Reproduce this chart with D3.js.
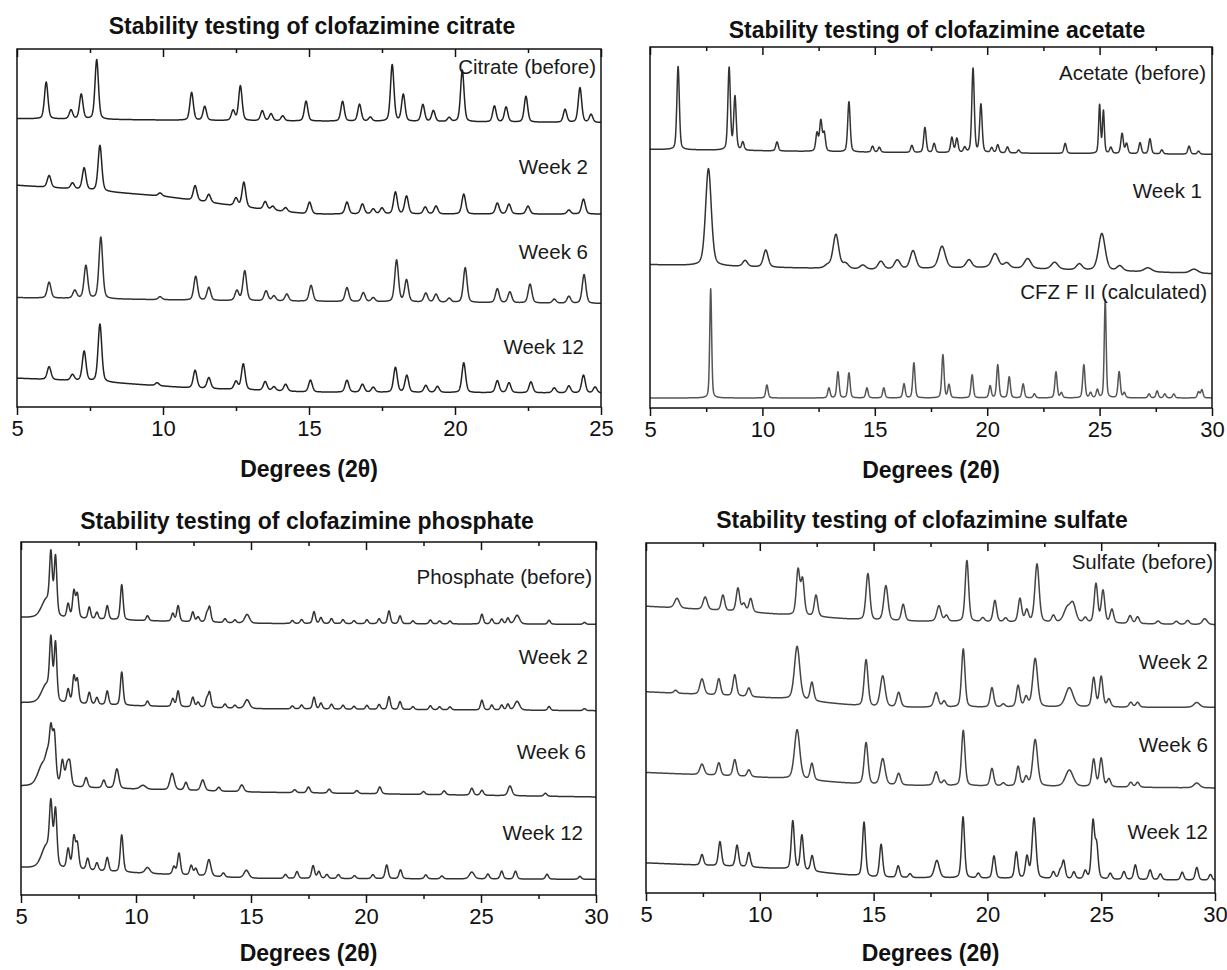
<!DOCTYPE html>
<html>
<head>
<meta charset="utf-8">
<script src="https://cdn.jsdelivr.net/npm/d3@7"></script>
<style>
  body { margin: 0; background: #fff; }
  svg { display: block; }
</style>
</head>
<body>
<div id="chart"></div>
<script>
// data: peak lists, [2theta, height, fwhm (optional)]
// baselines: [2theta, intensity] anchors, intensities in arbitrary counts (0-360 per panel)

const panelTitles = [
  "Stability testing of clofazimine citrate",
  "Stability testing of clofazimine acetate",
  "Stability testing of clofazimine phosphate",
  "Stability testing of clofazimine sulfate"
];
const xDomains = [[5, 25], [5, 30], [5, 30], [5, 30]];
const majorTicks = [[5, 10, 15, 20, 25], [5, 10, 15, 20, 25, 30], [5, 10, 15, 20, 25, 30], [5, 10, 15, 20, 25, 30]];
const minorTicks = [[7.5, 12.5, 17.5, 22.5], [7.5, 12.5, 17.5, 22.5, 27.5], [7.5, 12.5, 17.5, 22.5, 27.5], [7.5, 12.5, 17.5, 22.5, 27.5]];

const citrateLabels = ["Citrate (before)", "Week 2", "Week 6", "Week 12"];
const acetateLabels = ["Acetate (before)", "Week 1", "CFZ F II (calculated)"];
const phosphateLabels = ["Phosphate (before)", "Week 2", "Week 6", "Week 12"];
const sulfateLabels = ["Sulfate (before)", "Week 2", "Week 6", "Week 12"];

// citrate
const citrateBase = [
  [[5, 290], [12, 288], [25, 286]],
  [[5, 223], [7, 219], [10, 212], [13, 200], [15, 194], [25, 194]],
  [[5, 110], [12, 107], [25, 104]],
  [[5, 29], [8, 25], [11, 19], [15, 15], [25, 14]]
];
const citrateBefore = [[6.0, 37], [6.85, 9], [7.2, 25], [7.73, 60], [10.98, 28], [11.43, 14], [12.4, 10], [12.65, 35], [13.4, 10], [13.7, 7], [14.1, 5], [14.9, 20], [16.15, 20], [16.73, 17], [17.1, 4], [17.85, 57], [18.23, 27], [18.9, 17], [19.26, 11], [19.8, 4], [20.25, 52], [21.35, 16], [21.75, 15], [22.43, 26], [23.77, 13], [24.28, 35], [24.66, 8]];
const citrateWeek2 = [[6.1, 12], [6.9, 6], [7.3, 22], [7.84, 46], [9.9, 3], [11.1, 15], [11.57, 8], [12.5, 8], [12.77, 25], [13.5, 8], [13.76, 4], [14.2, 4], [15.02, 12], [16.3, 12], [16.83, 10], [17.2, 5], [17.5, 6], [17.96, 22], [18.34, 18], [18.98, 7], [19.35, 8], [20.3, 20], [21.45, 11], [21.85, 10], [22.5, 8], [23.9, 4], [24.4, 15]];
const citrateWeek6 = [[6.1, 16], [6.98, 8], [7.36, 33], [7.87, 62], [9.9, 3], [11.12, 24], [11.57, 13], [12.53, 10], [12.8, 30], [13.53, 10], [13.8, 5], [14.24, 7], [15.07, 16], [16.3, 14], [16.86, 9], [17.2, 4], [18.0, 42], [18.34, 22], [19.0, 9], [19.35, 8], [19.8, 4], [20.35, 35], [21.45, 14], [21.88, 11], [22.57, 19], [23.4, 4], [23.9, 7], [24.42, 29]];
const citrateWeek12 = [[6.1, 13], [6.9, 6], [7.3, 30], [7.84, 58], [9.8, 3], [11.1, 18], [11.57, 11], [12.5, 8], [12.75, 26], [13.5, 9], [13.8, 4], [14.2, 7], [15.05, 12], [16.3, 12], [16.83, 8], [17.2, 5], [17.96, 25], [18.35, 17], [19.0, 7], [19.4, 6], [20.3, 30], [21.45, 12], [21.85, 10], [22.6, 11], [23.4, 5], [23.9, 7], [24.4, 18], [24.8, 6]];

// acetate
const acetateBase = [
  [[5, 258], [15, 255], [30, 253]],
  [[5, 143], [15, 138], [20, 140], [30, 134]],
  [[5, 10], [30, 10]]
];
const acetateBefore = [[6.25, 83], [8.52, 82], [8.78, 53], [9.13, 8], [10.65, 9], [12.43, 18], [12.6, 30], [12.75, 18], [13.85, 50], [14.9, 6], [15.2, 5], [16.65, 7], [17.23, 25], [17.64, 9], [18.43, 15], [18.65, 14], [19.0, 5], [19.37, 84], [19.72, 48], [20.2, 5], [20.47, 8], [20.9, 6], [21.4, 3], [23.47, 10], [25.0, 48, 0.1], [25.17, 42, 0.1], [25.5, 6], [26.0, 20], [26.2, 10], [26.8, 11], [27.24, 15], [27.77, 4], [28.98, 8], [29.4, 3]];
const acetateWeek1 = [[7.6, 97], [9.23, 6, 0.25], [10.15, 17, 0.25], [12.9, 3], [13.27, 34], [13.7, 5], [14.47, 4], [15.27, 8], [16.0, 9], [16.7, 18], [17.99, 22, 0.35], [19.19, 8], [20.35, 14, 0.35], [20.87, 5], [21.8, 10, 0.35], [23.0, 7, 0.35], [24.1, 6], [25.1, 37, 0.35], [25.9, 5], [27.15, 4, 0.4], [29.2, 4, 0.4]];
const cfzCalc = [[7.7, 109, 0.1], [10.2, 13], [12.96, 10], [13.36, 26], [13.85, 25], [14.65, 10], [15.4, 10], [16.3, 14], [16.74, 35], [18.03, 43], [18.3, 13], [19.33, 23], [20.13, 12], [20.47, 33], [20.98, 21], [21.6, 14], [22.1, 4], [23.06, 26], [23.3, 5], [24.3, 33], [24.6, 5], [24.9, 8], [25.25, 98, 0.1], [25.87, 26], [26.1, 5], [27.2, 4], [27.56, 7], [27.9, 4], [28.3, 4], [29.4, 6], [29.55, 8]];

// phosphate
const phosphateBase = [
  [[5, 283], [15, 277], [30, 276]],
  [[5, 196], [15, 190], [30, 188]],
  [[5, 111], [15, 105], [30, 100]],
  [[5, 28], [15, 17], [30, 16]]
];
const phosphateBefore = [[6.1, 18, 0.5], [6.3, 56], [6.5, 59], [7.05, 14], [7.3, 27], [7.45, 24], [7.97, 12], [8.3, 7], [8.75, 14], [9.38, 36], [10.5, 5], [11.6, 8], [11.83, 16], [12.47, 10], [12.7, 5], [13.08, 8], [13.2, 15], [13.87, 4], [14.3, 3], [14.83, 9, 0.25], [16.8, 3], [17.2, 4], [17.74, 12], [18.04, 6], [18.5, 5], [19.0, 4], [19.48, 3], [20.04, 4], [20.57, 5], [21.0, 13], [21.48, 8], [22.04, 3], [22.8, 4], [23.2, 3], [23.65, 3], [25.04, 10], [25.47, 5], [25.9, 5], [26.17, 6], [26.57, 9, 0.25], [27.96, 4], [29.5, 2]];
const phosphateWeek2 = [[6.1, 18, 0.5], [6.3, 56], [6.5, 58], [7.05, 14], [7.3, 27], [7.45, 24], [7.97, 12], [8.3, 7], [8.75, 14], [9.38, 34], [10.5, 5], [11.6, 8], [11.83, 16], [12.47, 10], [12.7, 5], [13.08, 8], [13.2, 15], [13.87, 4], [14.3, 3], [14.83, 9, 0.25], [16.8, 3], [17.2, 4], [17.74, 12], [18.04, 6], [18.5, 5], [19.0, 4], [19.48, 3], [20.04, 4], [20.57, 5], [21.0, 13], [21.48, 8], [22.04, 3], [22.8, 4], [23.2, 3], [23.65, 3], [25.04, 10], [25.47, 5], [25.9, 5], [26.17, 6], [26.57, 9, 0.25], [27.96, 4], [29.5, 2]];
const phosphateWeek6 = [[5.95, 22, 0.5], [6.15, 18, 0.2], [6.3, 48], [6.45, 48], [6.8, 25], [7.0, 18], [7.12, 22], [7.83, 10], [8.6, 8], [9.17, 20, 0.2], [10.3, 4, 0.3], [11.57, 17, 0.22], [12.17, 8], [12.9, 11, 0.2], [13.6, 4], [14.6, 7, 0.2], [16.9, 3], [17.5, 6], [18.4, 4], [19.6, 3], [20.6, 7], [22.5, 3], [23.4, 4], [24.6, 7], [25.04, 5], [26.26, 10, 0.2], [27.8, 3]];
const phosphateWeek12 = [[6.1, 22, 0.5], [6.3, 55], [6.5, 56], [7.05, 20], [7.3, 32], [7.45, 25], [7.9, 12], [8.3, 8], [8.75, 14], [9.38, 38], [10.5, 6, 0.25], [11.65, 8], [11.87, 22], [12.4, 10], [12.6, 7], [13.17, 17, 0.2], [13.8, 4], [14.8, 8, 0.25], [16.5, 4], [17.0, 7], [17.7, 13], [17.95, 7], [18.3, 4], [18.8, 4], [19.5, 3], [20.3, 4], [20.9, 14], [21.5, 9], [22.6, 4], [23.3, 3], [24.6, 7, 0.25], [25.3, 5], [25.9, 8], [26.5, 8], [27.87, 5], [29.3, 3]];

// sulfate
const sulfateBase = [
  [[5, 295], [10, 288], [15, 280], [30, 276]],
  [[5, 207], [11, 200], [15, 191], [30, 191]],
  [[5, 124], [11, 118], [15, 111], [30, 108]],
  [[5, 31], [11, 25], [15, 16], [30, 13]]
];
const sulfateBefore = [[6.36, 10, 0.25], [7.6, 13, 0.22], [8.38, 16], [9.04, 24], [9.3, 8], [9.6, 14], [11.68, 46], [11.88, 36], [12.47, 22], [14.75, 48, 0.2], [15.54, 36, 0.22], [16.3, 17], [17.87, 16, 0.22], [18.2, 6], [19.1, 63], [19.8, 4], [20.33, 22], [20.8, 4], [21.43, 24], [21.73, 12], [22.18, 60, 0.22], [22.9, 7], [23.5, 14, 0.35], [23.76, 18, 0.3], [24.3, 5], [24.77, 40], [25.08, 33], [25.47, 14], [26.27, 8], [26.6, 7], [27.5, 3], [28.3, 3], [28.8, 4], [29.55, 6, 0.25]];
const sulfateWeek2 = [[6.3, 3], [7.46, 16, 0.22], [8.2, 17], [8.9, 22], [9.52, 9], [11.64, 55, 0.28], [12.29, 19], [14.67, 48, 0.2], [15.4, 32, 0.25], [16.1, 15, 0.2], [17.75, 15, 0.22], [18.1, 6], [18.94, 60], [20.2, 20], [20.7, 3], [21.35, 22], [21.7, 10], [22.1, 50, 0.25], [23.6, 20, 0.4], [24.67, 30], [25.0, 31], [25.34, 8], [26.3, 5], [26.6, 5], [29.2, 5, 0.3]];
const sulfateWeek6 = [[7.46, 11, 0.22], [8.2, 13], [8.9, 17], [9.52, 7], [11.64, 51, 0.28], [12.29, 17], [14.67, 43, 0.2], [15.4, 27, 0.25], [16.1, 12, 0.2], [17.75, 14, 0.22], [18.1, 5], [18.94, 57], [20.2, 18], [20.7, 3], [21.35, 20], [21.7, 9], [22.1, 48, 0.25], [23.6, 17, 0.4], [24.67, 28], [25.0, 29], [25.34, 8], [26.3, 5], [26.6, 5], [29.2, 5, 0.3]];
const sulfateWeek12 = [[7.46, 11], [8.25, 25], [9.0, 22], [9.52, 15], [11.45, 50], [11.85, 36], [12.3, 16], [14.58, 56], [15.33, 34], [16.08, 12], [16.6, 4], [17.78, 18, 0.25], [18.93, 63], [19.6, 5], [20.29, 23], [21.27, 27], [21.74, 22], [22.05, 62, 0.2], [22.9, 7], [23.2, 8], [23.35, 18], [23.8, 7], [24.3, 8], [24.64, 58], [24.8, 33], [25.4, 6], [26.0, 8], [26.5, 15], [27.15, 10], [27.6, 6], [28.56, 8], [29.2, 13], [29.8, 6]];

// config

const width = 1227;
const height = 970;
const yMax = 360;
const font = "'Liberation Sans', Arial, sans-serif";

const panels = [
  { left: 17, right: 601, top: 49, bottom: 407, titleX: 312, titleY: 26, axisTitleY: 469,
    traces: [citrateBefore, citrateWeek2, citrateWeek6, citrateWeek12], base: citrateBase,
    fwhm: [0.14, 0.15, 0.15, 0.15], labels: citrateLabels,
    labelPos: [[596, 67], [588, 167], [588, 252], [584, 347]], color: ["#222", "#222", "#333", "#222"] },
  { left: 650, right: 1212, top: 47, bottom: 408, titleX: 937, titleY: 30, axisTitleY: 470,
    traces: [acetateBefore, acetateWeek1, cfzCalc], base: acetateBase,
    fwhm: [0.13, 0.3, 0.12], labels: acetateLabels,
    labelPos: [[1206, 73], [1202, 191], [1207, 292]], color: ["#333", "#333", "#555"] },
  { left: 21, right: 596, top: 542, bottom: 895, titleX: 307, titleY: 521, axisTitleY: 953,
    traces: [phosphateBefore, phosphateWeek2, phosphateWeek6, phosphateWeek12], base: phosphateBase,
    fwhm: [0.14, 0.14, 0.16, 0.15], labels: phosphateLabels,
    labelPos: [[592, 577], [588, 657], [586, 752], [583, 833]], color: ["#333", "#333", "#333", "#333"] },
  { left: 646, right: 1215, top: 543, bottom: 893, titleX: 922, titleY: 520, axisTitleY: 953,
    traces: [sulfateBefore, sulfateWeek2, sulfateWeek6, sulfateWeek12], base: sulfateBase,
    fwhm: [0.18, 0.18, 0.18, 0.16], labels: sulfateLabels,
    labelPos: [[1213, 562], [1208, 662], [1208, 745], [1208, 832]], color: ["#444", "#444", "#444", "#333"] }
];

// pseudo-voigt profile for one peak
function profile(x, c, h, w) {
  const t = (x - c) / w;
  const lor = 1 / (1 + 4 * t * t);
  const gau = Math.exp(-4 * Math.LN2 * t * t);
  return h * (0.35 * lor + 0.65 * gau);
}

function buildPattern(peaks, baseAnchors, defaultW, domain) {
  const base = d3.scaleLinear()
    .domain(baseAnchors.map(d => d[0]))
    .range(baseAnchors.map(d => d[1]))
    .clamp(true);
  const pts = [];
  const step = 0.01;
  for (let x = domain[0]; x <= domain[1] + 1e-9; x += step) {
    let y = base(x);
    for (const p of peaks) {
      if (Math.abs(x - p[0]) < 3) y += profile(x, p[0], p[1], p[2] || defaultW);
    }
    pts.push([x, y]);
  }
  return pts;
}

const svg = d3.select("#chart")
  .append("svg")
  .attr("width", width)
  .attr("height", height)
  .attr("viewBox", [0, 0, width, height]);

svg.append("rect").attr("width", width).attr("height", height).attr("fill", "#fff");

panels.forEach((p, pi) => {
  const xScale = d3.scaleLinear().domain(xDomains[pi]).range([p.left, p.right]);
  const yScale = d3.scaleLinear().domain([0, yMax]).range([p.bottom, p.top]);

  const g = svg.append("g");

  // clip so traces stay inside the frame
  g.append("clipPath").attr("id", "clip" + pi)
    .append("rect")
    .attr("x", p.left).attr("y", p.top - 20)
    .attr("width", p.right - p.left).attr("height", p.bottom - p.top + 20);

  const line = d3.line()
    .x(d => xScale(d[0]))
    .y(d => yScale(d[1]));

  p.traces.forEach((peaks, ti) => {
    const pts = buildPattern(peaks, p.base[ti], p.fwhm[ti], xDomains[pi]);
    g.append("path")
      .attr("d", line(pts))
      .attr("clip-path", "url(#clip" + pi + ")")
      .attr("fill", "none")
      .attr("stroke", p.color[ti])
      .attr("stroke-width", 1.5)
      .attr("stroke-linejoin", "round");
  });

  // trace labels
  p.labels.forEach((lab, li) => {
    g.append("text")
      .attr("x", p.labelPos[li][0])
      .attr("y", p.labelPos[li][1])
      .attr("dy", "0.35em")
      .attr("text-anchor", "end")
      .style("font-family", font)
      .style("font-size", "20.5px")
      .style("fill", "#1a1a1a")
      .text(lab);
  });

  // axes: bottom (outward ticks + labels), top (inward ticks)
  const bottomMajor = d3.axisBottom(xScale).tickValues(majorTicks[pi]).tickSize(8).tickPadding(5).tickFormat(d3.format("d"));
  const bottomMinor = d3.axisBottom(xScale).tickValues(minorTicks[pi]).tickSize(4).tickFormat("");
  const topMajor = d3.axisTop(xScale).tickValues(majorTicks[pi]).tickSize(-8).tickFormat("");
  const topMinor = d3.axisTop(xScale).tickValues(minorTicks[pi]).tickSize(-4).tickFormat("");

  const styleAxis = sel => sel
    .call(a => a.select(".domain").remove())
    .call(a => a.selectAll(".tick line").attr("stroke", "#111").attr("stroke-width", 1.5))
    .call(a => a.selectAll(".tick text")
      .style("font-family", font)
      .style("font-size", "22px")
      .attr("fill", "#111"));

  g.append("g").attr("transform", "translate(0," + p.bottom + ")").call(bottomMajor).call(styleAxis);
  g.append("g").attr("transform", "translate(0," + p.bottom + ")").call(bottomMinor).call(styleAxis);
  g.append("g").attr("transform", "translate(0," + p.top + ")").call(topMajor).call(styleAxis);
  g.append("g").attr("transform", "translate(0," + p.top + ")").call(topMinor).call(styleAxis);

  // frame
  g.append("rect")
    .attr("x", p.left).attr("y", p.top)
    .attr("width", p.right - p.left).attr("height", p.bottom - p.top)
    .attr("fill", "none")
    .attr("stroke", "#111")
    .attr("stroke-width", 1.5);

  // title
  g.append("text")
    .attr("x", p.titleX)
    .attr("y", p.titleY)
    .attr("dy", "0.35em")
    .attr("text-anchor", "middle")
    .style("font-family", font)
    .style("font-size", "23px")
    .style("font-weight", "bold")
    .style("fill", "#111")
    .text(panelTitles[pi]);

  // x axis title
  g.append("text")
    .attr("x", (p.left + p.right) / 2)
    .attr("y", p.axisTitleY)
    .attr("dy", "0.35em")
    .attr("text-anchor", "middle")
    .style("font-family", font)
    .style("font-size", "23px")
    .style("font-weight", "bold")
    .style("fill", "#111")
    .text("Degrees (2θ)");
});
</script>
</body>
</html>
